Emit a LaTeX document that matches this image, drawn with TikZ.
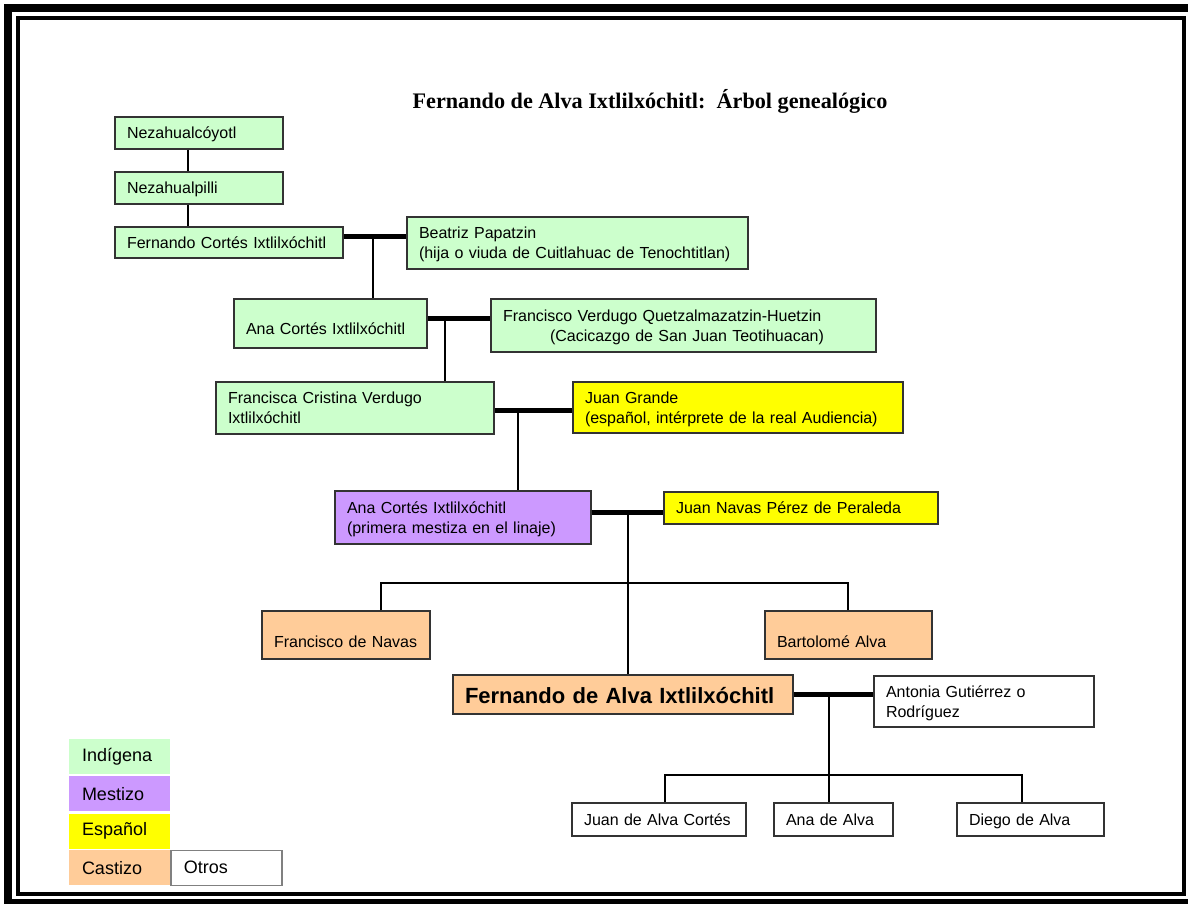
\documentclass[tikz,border=0pt]{standalone}
\usepackage{fontspec}
\setmainfont{Liberation Serif}
\setsansfont{Liberation Sans}
\usetikzlibrary{positioning}

\definecolor{indigena}{HTML}{CCFFCC}
\definecolor{mestizo}{HTML}{CC99FF}
\definecolor{espanol}{HTML}{FFFF00}
\definecolor{castizo}{HTML}{FFCC99}
\definecolor{borde}{HTML}{333333}

\newcommand\puntal{\rule[-4pt]{0pt}{19.4pt}}

\tikzset{
  caja/.style={draw=borde, line width=1.3pt, rectangle, inner xsep=12pt, inner ysep=0pt,
    align=left, font=\sffamily\fontsize{16}{20}\selectfont,
    execute at begin node={\puntal}, execute at end node={\puntal}},
  bajo/.style={execute at begin node={\rule{0pt}{#1}}},
  tam/.style n args={3}{minimum width=#1pt, minimum height=#2pt, text width=#3pt},
  linea/.style={line width=2pt},
  union/.style={line width=5pt},
  leyenda/.style={rectangle, inner xsep=13pt, inner ysep=0pt, align=left,
    minimum width=101pt, minimum height=35pt, text width=75pt,
    font=\sffamily\fontsize{18}{22}\selectfont},
}

\begin{document}
\begin{tikzpicture}[x=1pt, y=-1pt]
    \useasboundingbox (0,0) rectangle (1188,903);
    % marco doble
    \draw[line width=8pt] (8,8) rectangle (1195,903);
    \draw[line width=4pt] (18,18) rectangle (1184,894);

    \node[anchor=base, font=\bfseries\fontsize{22.2}{26}\selectfont] (titulo) at (650,108)
      {Fernando de Alva Ixtlilxóchitl:\ \ Árbol genealógico};

    % personas
    \node[caja, fill=indigena, tam={168}{32}{144}] (neza) at (199,133) {Nezahualcóyotl};
    \node[caja, fill=indigena, tam={168}{32}{144}] (nezap) at (199,188) {Nezahualpilli};
    \node[caja, fill=indigena, tam={228}{31}{204}] (fcortes) at (229,242.5) {Fernando Cortés Ixtlilxóchitl};
    \node[caja, fill=indigena, tam={341}{52}{317}] (beatriz) at (577.5,243)
      {Beatriz Papatzin\\(hija o viuda de Cuitlahuac de Tenochtitlan)};
    \node[caja, fill=indigena, tam={193}{49}{169}, bajo=26pt] (ana1) at (330.5,323.5) {Ana Cortés Ixtlilxóchitl};
    \node[caja, fill=indigena, tam={385}{53}{361}] (fverdugo) at (683.5,325.5)
      {Francisco Verdugo Quetzalmazatzin-Huetzin\\\hspace*{47pt}(Cacicazgo de San Juan Teotihuacan)};
    \node[caja, fill=indigena, tam={278}{52}{254}] (francisca) at (355,408)
      {Francisca Cristina Verdugo\\Ixtlilxóchitl};
    \node[caja, fill=espanol, tam={330}{51}{306}] (jgrande) at (738,407.5)
      {Juan Grande\\(español, intérprete de la real Audiencia)};
    \node[caja, fill=mestizo, tam={256}{53}{232}] (ana2) at (463,517.5)
      {Ana Cortés Ixtlilxóchitl\\(primera mestiza en el linaje)};
    \node[caja, fill=espanol, tam={274}{32}{250}] (jnavas) at (801,508) {Juan Navas Pérez de Peraleda};
    \node[caja, fill=castizo, tam={168}{48}{144}, bajo=28pt] (fnavas) at (346,635) {Francisco de Navas};
    \node[caja, fill=castizo, tam={167}{48}{143}, bajo=28pt] (bartolome) at (848.5,635) {Bartolomé Alva};
    \node[caja, fill=castizo, tam={340}{39}{316}, bajo=22pt, font=\sffamily\bfseries\fontsize{22}{26}\selectfont]
      (falva) at (623,694.5) {Fernando de Alva Ixtlilxóchitl};
    \node[caja, fill=white, tam={220}{51}{196}] (antonia) at (984,701.5) {Antonia Gutiérrez o\\Rodríguez};
    \node[caja, fill=white, tam={174}{33}{150}] (jalva) at (659,819.5) {Juan de Alva Cortés};
    \node[caja, fill=white, tam={119}{33}{95}] (aalva) at (833.5,819.5) {Ana de Alva};
    \node[caja, fill=white, tam={147}{33}{123}] (dalva) at (1030.5,819.5) {Diego de Alva};

    % descendencia directa
    \draw[linea] ([xshift=-11pt]neza.south) -- ([xshift=-11pt]nezap.north);
    \draw[linea] ([xshift=-11pt]nezap.south) -- ([xshift=-11pt]nezap.south |- fcortes.north);

    % matrimonios
    \coordinate (u1) at (373,236);
    \draw[union] (fcortes.east |- u1) -- (beatriz.west |- u1);
    \draw[linea] (u1) -- (u1 |- ana1.north);

    \coordinate (u2) at (445,318);
    \draw[union] (ana1.east |- u2) -- (fverdugo.west |- u2);
    \draw[linea] (u2) -- (u2 |- francisca.north);

    \coordinate (u3) at (518,410);
    \draw[union] (francisca.east |- u3) -- (jgrande.west |- u3);
    \draw[linea] (u3) -- (u3 |- ana2.north);

    \coordinate (u4) at (628,512);
    \draw[union] (ana2.east |- u4) -- (jnavas.west |- u4);
    \draw[linea] (u4) -- (u4 |- falva.north);
    \coordinate (h1) at (381,583);
    \coordinate (h2) at (848,583);
    \draw[linea] (h1 |- fnavas.north) -- (h1) -- (h2) -- (h2 |- bartolome.north);

    \coordinate (u5) at (829,694);
    \draw[union] (falva.east |- u5) -- (antonia.west |- u5);
    \draw[linea] (u5) -- (u5 |- aalva.north);
    \coordinate (h3) at (665,775);
    \coordinate (h4) at (1022,775);
    \draw[linea] (h3 |- jalva.north) -- (h3) -- (h4) -- (h4 |- dalva.north);

    % leyenda
    \node[leyenda, fill=indigena] (lind) at (119.5,756.5) {Indígena};
    \node[leyenda, fill=mestizo, below=2pt of lind] (lmes) {Mestizo};
    \node[leyenda, fill=espanol, below=2pt of lmes] (lesp) {Español};
    \node[leyenda, fill=castizo, below=1pt of lesp] (lcas) {Castizo};
    \node[leyenda, draw=gray, line width=1.3pt, fill=white, minimum width=111pt, text width=85pt,
      right=0pt of lcas] (lotros) {Otros};
\end{tikzpicture}
\end{document}
